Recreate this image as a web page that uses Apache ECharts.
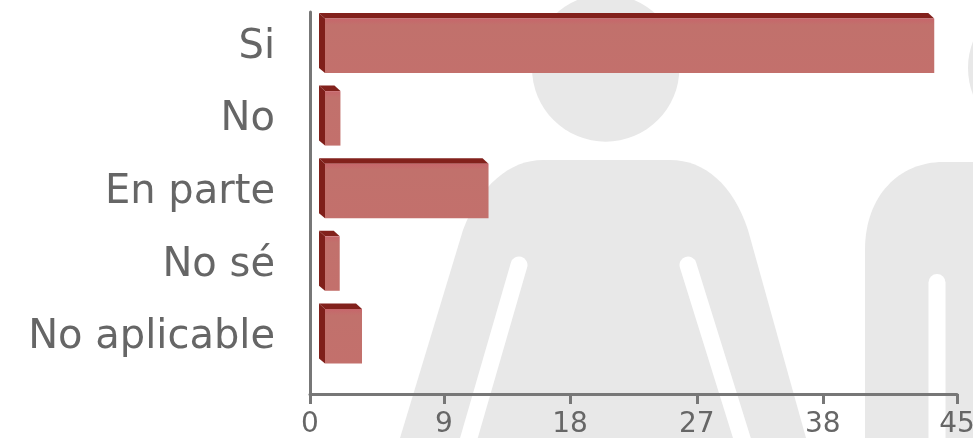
<!DOCTYPE html>
<html>
<head>
<meta charset="utf-8">
<script src="https://cdn.jsdelivr.net/npm/echarts@6/dist/echarts.min.js"></script>
<style>
html,body{margin:0;padding:0;background:#fff;overflow:hidden}
#c{width:973px;height:438px;filter:blur(0.7px)}
</style>
</head>
<body>
<div id="c"></div>
<script>
var categories = ["Si", "No", "En parte", "No sé", "No aplicable"];
var values = [43, 1.7, 12, 1.65, 3.2];
var tickLabels = ["0", "9", "18", "27", "38", "45"];
var tickPositions = [0, 9.32, 18.08, 26.9, 35.67, 45];
var categoryIndex = [0, 1, 2, 3, 4];

var FONT = '"DejaVu Sans"';
var GREY = '#e8e8e8';
var AXIS = '#777777';

echarts.graphic.registerShape('bodyA', echarts.graphic.extendPath(
  'M400 438L463 230C480 185 510 160 543 160L670 160C705 160 733 185 748 230L806 438Z', {}));
echarts.graphic.registerShape('bodyB', echarts.graphic.extendPath(
  'M865 438L865 250C865 195 900 162 943 162L973 162L973 438Z', {}));

function renderBar(params, api) {
  var v = api.value(0), i = api.value(1);
  var p0 = api.coord([0, i]), p = api.coord([v, i]);
  var cy = p0[1], xb = p0[0] + 9, xf = p0[0] + 15, xrb = p[0], xr = p[0] + 6;
  var yT = cy - 30, yF = cy - 24.5, yB = cy + 30, yBb = cy + 25;
  return {
    type: 'group',
    children: [
      { type: 'polygon', shape: { points: [[xb, yT], [xrb, yT], [xr, yF], [xf, yF]] }, style: { fill: '#82211c' } },
      { type: 'polygon', shape: { points: [[xb, yT], [xf, yF], [xf, yB], [xb, yBb]] }, style: { fill: '#7f1f1a' } },
      { type: 'rect', shape: { x: xf, y: yF, width: xr - xf, height: yB - yF },
        style: { fill: new echarts.graphic.LinearGradient(0, 0, 0, 1, [
          { offset: 0, color: '#c7666b' }, { offset: 0.12, color: '#c1716c' }, { offset: 1, color: '#c3706c' }
        ]) } }
    ]
  };
}

var chart = echarts.init(document.getElementById('c'), null, { renderer: 'canvas' });
chart.setOption({
  animation: false,
  backgroundColor: '#ffffff',
  graphic: { elements: [
    { type: 'circle', silent: true, z: -10, shape: { cx: 605.7, cy: 68, r: 73.7 }, style: { fill: GREY } },
    { type: 'circle', silent: true, z: -10, shape: { cx: 1042, cy: 68, r: 74 }, style: { fill: GREY } },
    { type: 'bodyA', silent: true, z: -10, style: { fill: GREY } },
    { type: 'bodyB', silent: true, z: -10, style: { fill: GREY } },
    { type: 'line', silent: true, z: -9, shape: { x1: 519, y1: 265, x2: 466, y2: 448 }, style: { stroke: '#fff', lineWidth: 17, lineCap: 'round' } },
    { type: 'line', silent: true, z: -9, shape: { x1: 688, y1: 265, x2: 745, y2: 448 }, style: { stroke: '#fff', lineWidth: 17, lineCap: 'round' } },
    { type: 'line', silent: true, z: -9, shape: { x1: 937, y1: 282.5, x2: 937, y2: 448 }, style: { stroke: '#fff', lineWidth: 17, lineCap: 'round' } }
  ] },
  grid: { left: 310, right: 16, top: 12, bottom: 44, containLabel: false, outerBoundsMode: 'none' },
  xAxis: {
    type: 'value', min: 0, max: 45, splitLine: { show: false },
    axisLine: { show: true, onZero: false, lineStyle: { color: AXIS, width: 3 } },
    axisTick: { show: true, length: 10, customValues: tickPositions, lineStyle: { color: AXIS, width: 3 } },
    axisLabel: {
      customValues: tickPositions, margin: 17, color: '#666666', fontFamily: FONT, fontSize: 28,
      hideOverlap: false, showMinLabel: true, showMaxLabel: true,
      formatter: function (v) { return tickLabels[tickPositions.indexOf(v)]; }
    }
  },
  yAxis: {
    type: 'value', inverse: true, min: -0.427, max: 4.835, splitLine: { show: false },
    axisLine: { show: true, onZero: false, lineStyle: { color: AXIS, width: 3 } },
    axisTick: { show: false, customValues: categoryIndex },
    axisLabel: {
      customValues: categoryIndex, margin: 35, color: '#666666', fontFamily: FONT, fontSize: 40,
      hideOverlap: false, showMinLabel: true, showMaxLabel: true,
      formatter: function (v) { return '{t|' + categories[v] + '}'; },
      rich: { t: { color: '#666666', fontFamily: FONT, fontSize: 40, padding: [9, 0, 0, 0] } }
    }
  },
  series: [{
    type: 'custom', renderItem: renderBar, clip: false,
    encode: { x: 0, y: 1 },
    data: values.map(function (v, i) { return [v, i]; })
  }]
});
</script>
</body>
</html>
